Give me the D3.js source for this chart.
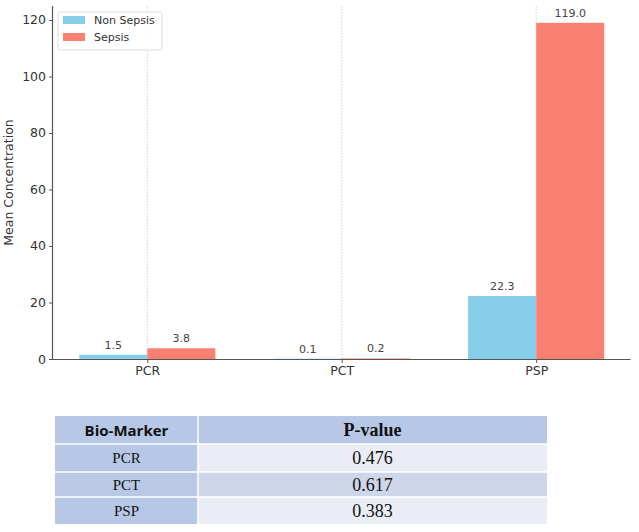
<!DOCTYPE html>
<html><head><meta charset="utf-8">
<script src="https://cdn.jsdelivr.net/npm/d3@7"></script>
<style>body{margin:0;background:#fff}svg{display:block}</style>
</head><body>
<svg id="c" width="639" height="532"></svg>
<script>
const categories = ["PCR", "PCT", "PSP"];
const nonSepsis = [1.5, 0.1, 22.3];
const sepsis = [3.8, 0.2, 119.0];
const seriesNames = ["Non Sepsis", "Sepsis"];
const seriesColors = ["#87CEEB", "#FA8072"];
const yTicks = [0, 20, 40, 60, 80, 100, 120];
const tableHeader = ["Bio-Marker", "P-value"];
const tableMarkers = ["PCR", "PCT", "PSP"];
const pValues = ["0.476", "0.617", "0.383"];

const svg = d3.select("#c");
const sans = "'DejaVu Sans', sans-serif";
const serif = "'Liberation Serif', 'Times New Roman', serif";

const L = 53, R = 630.5, T = 6, B = 359;
const barW = 0.35;
const x = d3.scaleLinear().domain([-0.485, 2.485]).range([L, R]);
const y = d3.scaleLinear().domain([0, 124.95]).range([B, T]);
const ux = x(1) - x(0);

// vertical grid lines
svg.append("g").selectAll("line").data(categories).join("line")
  .attr("x1", (d,i)=>x(i)).attr("x2", (d,i)=>x(i))
  .attr("y1", T).attr("y2", B)
  .attr("stroke", "#c8c8c8").attr("stroke-width", 0.8).attr("stroke-dasharray", "1.5,1.5");

const series = [nonSepsis, sepsis];
series.forEach((vals, s) => {
  const off = s === 0 ? -barW : 0;
  svg.append("g").selectAll("rect").data(vals).join("rect")
    .attr("x", (d,i)=>x(i + off)).attr("width", barW*ux)
    .attr("y", d=>y(d)).attr("height", d=>B - y(d))
    .attr("fill", seriesColors[s]);
  svg.append("g").selectAll("text").data(vals).join("text")
    .attr("x", (d,i)=>x(i + off + barW/2)).attr("y", d=>y(d) - 6)
    .attr("text-anchor", "middle").attr("font-family", sans).attr("font-size", 11)
    .attr("fill", "#444").text(d=>d.toFixed(1));
});

// axes
const yAxis = d3.axisLeft(y).tickValues(yTicks).tickSize(4).tickPadding(3);
const gy = svg.append("g").attr("transform", `translate(${L},0)`).call(yAxis);
const xAxis = d3.axisBottom(x).tickValues([0,1,2]).tickFormat(i=>categories[i]).tickSize(4).tickPadding(3);
const gx = svg.append("g").attr("transform", `translate(0,${B})`).call(xAxis);
[gx, gy].forEach(g=>{
  g.select(".domain").attr("stroke", "#555").attr("stroke-width", 1.2);
  g.selectAll(".tick line").attr("stroke", "#555");
  g.selectAll(".tick text").attr("font-family", sans).attr("font-size", 12.5).attr("fill", "#333");
});
gy.select(".domain").attr("d", `M-0.5,${T}V${B}`);
gx.select(".domain").attr("d", `M${L},0.5H${R}`);

svg.append("text").attr("transform", `translate(13,${(T+B)/2}) rotate(-90)`)
  .attr("text-anchor", "middle").attr("font-family", sans).attr("font-size", 12.5)
  .attr("fill", "#333").text("Mean Concentration");

// legend
const lg = svg.append("g").attr("transform", "translate(58,12)");
lg.append("rect").attr("width", 104).attr("height", 38).attr("rx", 2)
  .attr("fill", "#fff").attr("fill-opacity", 0.85).attr("stroke", "#ddd");
seriesNames.forEach((n, i) => {
  lg.append("rect").attr("x", 5).attr("y", 4 + i*17).attr("width", 22).attr("height", 8).attr("fill", seriesColors[i]);
  lg.append("text").attr("x", 36).attr("y", 12 + i*17).attr("font-family", sans).attr("font-size", 11)
    .attr("fill", "#333").text(n);
});

// table
const tX0 = 55, tX1 = 198, tX2 = 547;
const rowY = [416, 444, 472, 497, 524];
const tg = svg.append("g");
const col2Colors = ["#b7c8e6", "#eaedf5", "#cfd6e9", "#eaedf5"];
const col1Colors = ["#b7c8e6", "#b7c8e6", "#b9c9e5", "#b7c8e6"];
for (let r = 0; r < 4; r++) {
  tg.append("rect").attr("x", tX0).attr("y", rowY[r]).attr("width", tX1 - tX0).attr("height", rowY[r+1]-rowY[r])
    .attr("fill", col1Colors[r]);
  tg.append("rect").attr("x", tX1).attr("y", rowY[r]).attr("width", tX2 - tX1).attr("height", rowY[r+1]-rowY[r])
    .attr("fill", col2Colors[r]);
}
// white separators
for (let r = 1; r < 4; r++) {
  tg.append("line").attr("x1", tX0).attr("x2", tX2).attr("y1", rowY[r]).attr("y2", rowY[r])
    .attr("stroke", "#fff").attr("stroke-width", 1.5);
}
tg.append("line").attr("x1", tX1).attr("x2", tX1).attr("y1", rowY[0]).attr("y2", rowY[4])
  .attr("stroke", "#fff").attr("stroke-width", 1.5);

const c1 = (tX0 + tX1)/2, c2 = (tX1 + tX2)/2;
tg.append("text").attr("x", c1).attr("y", (rowY[0]+rowY[1])/2 + 6).attr("text-anchor", "middle")
  .attr("font-family", "'Open Sans', 'Liberation Sans', sans-serif").attr("font-weight", "bold").attr("font-size", 15)
  .attr("fill", "#111").text(tableHeader[0]);
tg.append("text").attr("x", c2).attr("y", (rowY[0]+rowY[1])/2 + 6).attr("text-anchor", "middle")
  .attr("font-family", serif).attr("font-weight", "bold").attr("font-size", 18)
  .attr("fill", "#111").text(tableHeader[1]);
tableMarkers.forEach((m, i) => {
  const cy = (rowY[i+1] + rowY[i+2]) / 2;
  tg.append("text").attr("x", c1).attr("y", cy + 5).attr("text-anchor", "middle")
    .attr("font-family", serif).attr("font-size", 15).attr("fill", "#111").text(m);
  tg.append("text").attr("x", c2).attr("y", cy + 6).attr("text-anchor", "middle")
    .attr("font-family", serif).attr("font-size", 18).attr("fill", "#111").text(pValues[i]);
});
</script>
</body></html>
